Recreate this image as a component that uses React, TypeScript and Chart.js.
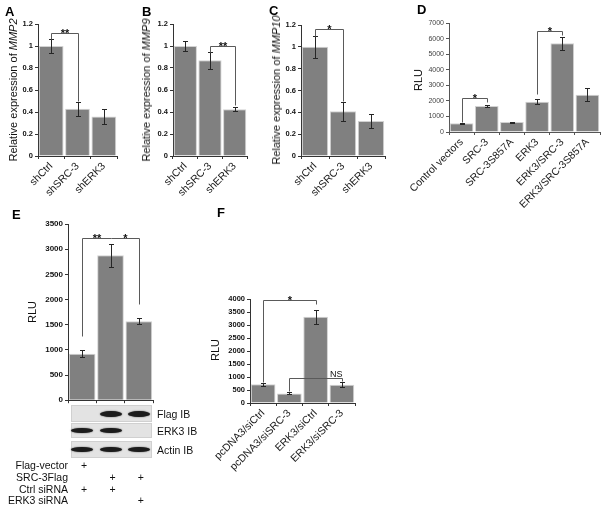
import React, { useEffect, useRef } from 'react';
import { Chart, registerables } from 'chart.js';
Chart.register(...registerables);

const FONT = '"Liberation Sans", Arial, Helvetica, sans-serif';

// ---------- data ----------
const catsA = ['shCtrl', 'shSRC-3', 'shERK3'];
const valsA = [1.0, 0.43, 0.36];
const errA = [0.06, 0.064, 0.07];
const ticksRel = [0, 0.2, 0.4, 0.6, 0.8, 1, 1.2];

const catsB = ['shCtrl', 'shSRC-3', 'shERK3'];
const valsB = [1.0, 0.87, 0.425];
const errB = [0.045, 0.08, 0.02];

const catsC = ['shCtrl', 'shSRC-3', 'shERK3'];
const valsC = [1.0, 0.41, 0.32];
const errC = [0.1, 0.085, 0.065];

const catsD = ['Control vectors', 'SRC-3', 'SRC-3S857A', 'ERK3', 'ERK3/SRC-3', 'ERK3/SRC-3S857A'];
const valsD = [560, 1670, 640, 1950, 5700, 2400];
const errD = [50, 90, 30, 180, 420, 400];
const ticksD = [0, 1000, 2000, 3000, 4000, 5000, 6000, 7000];

const catsE = ['Flag-vector/Ctrl siRNA', 'SRC-3Flag/Ctrl siRNA', 'SRC-3Flag/ERK3 siRNA'];
const valsE = [925, 2880, 1570];
const errE = [75, 230, 65];
const ticksE = [0, 500, 1000, 1500, 2000, 2500, 3000, 3500];

const catsF = ['pcDNA3/siCtrl', 'pcDNA3/siSRC-3', 'ERK3/siCtrl', 'ERK3/siSRC-3'];
const valsF = [720, 370, 3320, 700];
const errF = [65, 40, 270, 100];
const ticksF = [0, 500, 1000, 1500, 2000, 2500, 3000, 3500, 4000];

// significance brackets (values in data units)
const sigA = [{ from: 0, to: 1, y: 1.12, fromEnd: 1.06, toEnd: 0.5, label: '**', at: 0.5 }];
const sigB = [{ from: 1, to: 2, y: 1.0, fromEnd: 0.95, toEnd: 0.46, label: '**', at: 0.5 }];
const sigC = [{ from: 0, to: 1, y: 1.16, fromEnd: 1.1, toEnd: 0.5, label: '*', at: 0.5 }];
const sigD = [
  { from: 0, to: 1, y: 2200, fromEnd: 650, toEnd: 1900, label: '*', at: 0.5 },
  { from: 3, to: 4, y: 6500, fromEnd: 2450, toEnd: 6250, label: '*', at: 0.5 },
];
const sigE = [
  { from: 0, to: 1, y: 3230, fromEnd: 1270, toEnd: 3230, label: '**', at: 0.5 },
  { from: 1, to: 2, y: 3230, fromEnd: 3230, toEnd: 1920, label: '*', at: 0.5 },
];
const sigF = [
  { from: 0, to: 2, y: 3960, fromEnd: 800, toEnd: 3800, label: '*', at: 0.5 },
  { from: 1, to: 3, y: 970, fromEnd: 480, toEnd: 850, label: 'NS', at: 0.88 },
];

// western blot lanes (1 = band present)
const blotNames = ['Flag IB', 'ERK3 IB', 'Actin IB'];
const blotFlag = [0, 1, 1];
const blotErk3 = [1, 1, 0];
const blotActin = [1, 1, 1];

// condition table
const condNames = ['Flag-vector', 'SRC-3Flag', 'Ctrl siRNA', 'ERK3 siRNA'];
const condFlagVector = [1, 0, 0];
const condSrc3Flag = [0, 1, 1];
const condCtrlSi = [1, 1, 0];
const condErk3Si = [0, 0, 1];

// ---------- layout ----------
type Geo = { axisX: number; axisRight: number; yTop: number; yBottom: number };
const geoA: Geo = { axisX: 38, axisRight: 117, yTop: 24, yBottom: 156 };
const geoB: Geo = { axisX: 173, axisRight: 247, yTop: 24, yBottom: 156 };
const geoC: Geo = { axisX: 301, axisRight: 385, yTop: 25, yBottom: 156 };
const geoD: Geo = { axisX: 449, axisRight: 600, yTop: 23, yBottom: 132 };
const geoE: Geo = { axisX: 68, axisRight: 153, yTop: 224, yBottom: 403 };
const geoF: Geo = { axisX: 250, axisRight: 355, yTop: 299, yBottom: 403 };

type Sig = { from: number; to: number; y: number; fromEnd: number; toEnd: number; label: string; at: number };

function annotPlugin(errs: number[], sig: Sig[]) {
  return {
    id: 'annot',
    afterDatasetsDraw(chart: any) {
      const { ctx } = chart;
      const x = chart.scales.x;
      const y = chart.scales.y;
      const data = chart.data.datasets[0].data as number[];
      ctx.save();
      ctx.strokeStyle = '#262626';
      ctx.lineWidth = 1;
      errs.forEach((e, i) => {
        const cx = Math.round(x.getPixelForValue(i)) + 0.5;
        const v = data[i];
        const t = Math.round(y.getPixelForValue(v + e)) + 0.5;
        const b = Math.round(y.getPixelForValue(v - e)) + 0.5;
        ctx.beginPath();
        ctx.moveTo(cx, t); ctx.lineTo(cx, b);
        ctx.moveTo(cx - 2.5, t); ctx.lineTo(cx + 2.5, t);
        ctx.moveTo(cx - 2.5, b); ctx.lineTo(cx + 2.5, b);
        ctx.stroke();
      });
      sig.forEach((s) => {
        const x1 = Math.round(x.getPixelForValue(s.from)) + 0.5;
        const x2 = Math.round(x.getPixelForValue(s.to)) + 0.5;
        const yy = Math.round(y.getPixelForValue(s.y)) + 0.5;
        ctx.strokeStyle = '#5a5a5a';
        ctx.beginPath();
        ctx.moveTo(x1, Math.round(y.getPixelForValue(s.fromEnd)) + 0.5);
        ctx.lineTo(x1, yy);
        ctx.lineTo(x2, yy);
        ctx.lineTo(x2, Math.round(y.getPixelForValue(s.toEnd)) + 0.5);
        ctx.stroke();
        ctx.fillStyle = '#111';
        ctx.textAlign = 'center';
        ctx.textBaseline = 'alphabetic';
        const lx = x1 + (x2 - x1) * s.at;
        if (/^\*+$/.test(s.label)) {
          ctx.font = `bold 11px ${FONT}`;
          ctx.fillText(s.label, lx, yy + 3.5);
        } else {
          ctx.font = `9px ${FONT}`;
          ctx.fillText(s.label, lx, yy - 1.5);
        }
      });
      ctx.restore();
    },
  };
}

type PanelProps = {
  g: Geo; cats: string[]; vals: number[]; errs: number[]; ticks: number[]; sig: Sig[];
  tickFont: any; tickColor: string; showX?: boolean; yW?: number; xH?: number; axisColor?: string;
};

function BarPanel({ g, cats, vals, errs, ticks, sig, tickFont, tickColor, showX = true, yW = 60, xH = 90, axisColor = '#333' }: PanelProps) {
  const ref = useRef<HTMLCanvasElement>(null);
  const padTop = 20;
  const padRight = 14;
  const w = yW + (g.axisRight - g.axisX) + padRight;
  const h = padTop + (g.yBottom - g.yTop) + xH;
  useEffect(() => {
    if (!ref.current) return;
    const chart = new Chart(ref.current, {
      type: 'bar',
      data: {
        labels: cats,
        datasets: [{
          data: vals,
          backgroundColor: '#808080',
          borderColor: '#d2d2d2',
          borderWidth: 1,
          barPercentage: 0.94,
          categoryPercentage: 1,
        }],
      },
      options: {
        animation: false,
        responsive: false,
        maintainAspectRatio: false,
        devicePixelRatio: 1,
        layout: { padding: { top: padTop, right: padRight, left: 0, bottom: 0 } },
        plugins: { legend: { display: false }, tooltip: { enabled: false } },
        scales: {
          x: {
            grid: { display: true, drawOnChartArea: false, drawTicks: true, tickLength: 3, color: axisColor, offset: true },
            border: { display: true, color: axisColor, width: 1 },
            ticks: {
              display: showX, minRotation: 45, maxRotation: 45, autoSkip: false, padding: 1,
              font: { family: FONT, size: 10.5 }, color: '#1a1a1a',
            },
            afterFit: (s: any) => { s.height = xH; },
          },
          y: {
            min: ticks[0],
            max: ticks[ticks.length - 1],
            afterBuildTicks: (s: any) => { s.ticks = ticks.map((v) => ({ value: v })); },
            grid: { display: true, drawOnChartArea: false, drawTicks: true, tickLength: 3, color: axisColor },
            border: { display: true, color: axisColor, width: 1 },
            ticks: { padding: 2, font: tickFont, color: tickColor, callback: (v: any) => String(v) },
            afterFit: (s: any) => { s.width = yW; },
          },
        },
      },
      plugins: [annotPlugin(errs, sig)],
    } as any);
    return () => chart.destroy();
  }, []);
  return (
    <canvas
      ref={ref}
      width={w}
      height={h}
      style={{ position: 'absolute', left: g.axisX - yW, top: g.yTop - padTop, width: w, height: h }}
    />
  );
}

function Letter({ ch, x, y }: { ch: string; x: number; y: number }) {
  return (
    <div style={{ position: 'absolute', left: x, top: y - 2, font: `bold 13px ${FONT}`, lineHeight: '13px', color: '#000' }}>{ch}</div>
  );
}

function YTitle({ cx, cy, children }: { cx: number; cy: number; children: any }) {
  return (
    <div style={{
      position: 'absolute', left: cx, top: cy, transform: 'translate(-50%, -50%) rotate(-90deg)',
      whiteSpace: 'nowrap', font: `11px ${FONT}`, lineHeight: '12px', color: '#111',
    }}>{children}</div>
  );
}

const laneX = (i: number) => geoE.axisX + ((i + 0.5) * (geoE.axisRight - geoE.axisX)) / 3;

function Blot({ top, height, lanes, bandH, label }: { top: number; height: number; lanes: number[]; bandH: number; label: string }) {
  return (
    <>
      <div style={{
        position: 'absolute', left: 71, top, width: 81, height, background: '#e3e3e3',
        boxSizing: 'border-box', border: '1px solid #d0d0d0',
      }} />
      {lanes.map((p, i) => p ? (
        <div key={i} style={{
          position: 'absolute', left: laneX(i) - 11, top: top + height / 2 - bandH / 2, width: 22, height: bandH,
          borderRadius: '50%', background: '#1c1c1c', boxShadow: '0 0 1.5px #333',
        }} />
      ) : null)}
      <div style={{ position: 'absolute', left: 157, top: top + height / 2 - 7, font: `10.5px ${FONT}`, lineHeight: '14px', color: '#111', whiteSpace: 'nowrap' }}>{label}</div>
    </>
  );
}

function CondRow({ name, flags, cy }: { name: string; flags: number[]; cy: number }) {
  return (
    <>
      <div style={{ position: 'absolute', right: 610 - 68, top: cy - 7, font: `10.5px ${FONT}`, lineHeight: '14px', color: '#111', whiteSpace: 'nowrap', textAlign: 'right' }}>{name}</div>
      {flags.map((f, i) => f ? (
        <div key={i} style={{ position: 'absolute', left: laneX(i) + 2, top: cy - 7, transform: 'translateX(-50%)', font: `10.5px ${FONT}`, lineHeight: '14px', color: '#111' }}>+</div>
      ) : null)}
    </>
  );
}

export default function App() {
  const boldTick = { family: FONT, size: 7.5, weight: 'bold' };
  return (
    <div style={{ position: 'absolute', left: 0, top: 0, width: 610, height: 506, background: '#fff', overflow: 'hidden' }}>
      <BarPanel g={geoA} cats={catsA} vals={valsA} errs={errA} ticks={ticksRel} sig={sigA} tickFont={boldTick} tickColor="#111" yW={34} />
      <BarPanel g={geoB} cats={catsB} vals={valsB} errs={errB} ticks={ticksRel} sig={sigB} tickFont={boldTick} tickColor="#111" yW={34} />
      <BarPanel g={geoC} cats={catsC} vals={valsC} errs={errC} ticks={ticksRel} sig={sigC} tickFont={boldTick} tickColor="#111" yW={34} />
      <BarPanel g={geoD} cats={catsD} vals={valsD} errs={errD} ticks={ticksD} sig={sigD} tickFont={{ family: FONT, size: 7 }} tickColor="#444" yW={70} xH={100} axisColor="#555" />
      <BarPanel g={geoE} cats={catsE} vals={valsE} errs={errE} ticks={ticksE} sig={sigE} tickFont={{ family: FONT, size: 8, weight: 'bold' }} tickColor="#111" showX={false} yW={34} xH={4} />
      <BarPanel g={geoF} cats={catsF} vals={valsF} errs={errF} ticks={ticksF} sig={sigF} tickFont={boldTick} tickColor="#111" yW={70} xH={103} />

      <Letter ch="A" x={5} y={7} />
      <Letter ch="B" x={142} y={7} />
      <Letter ch="C" x={269} y={6} />
      <Letter ch="D" x={417} y={5} />
      <Letter ch="E" x={12} y={210} />
      <Letter ch="F" x={217} y={208} />

      <YTitle cx={13} cy={90}>Relative expression of <i>MMP2</i></YTitle>
      <YTitle cx={146} cy={90}>Relative expression of <i>MMP9</i></YTitle>
      <YTitle cx={276} cy={90}>Relative expression of <i>MMP10</i></YTitle>
      <YTitle cx={418} cy={80}>RLU</YTitle>
      <YTitle cx={32} cy={312}>RLU</YTitle>
      <YTitle cx={215} cy={350}>RLU</YTitle>

      <Blot top={405} height={17} lanes={blotFlag} bandH={6} label={blotNames[0]} />
      <Blot top={423} height={15} lanes={blotErk3} bandH={5} label={blotNames[1]} />
      <Blot top={441} height={17} lanes={blotActin} bandH={5} label={blotNames[2]} />

      <CondRow name={condNames[0]} flags={condFlagVector} cy={465} />
      <CondRow name={condNames[1]} flags={condSrc3Flag} cy={477} />
      <CondRow name={condNames[2]} flags={condCtrlSi} cy={489} />
      <CondRow name={condNames[3]} flags={condErk3Si} cy={500} />
    </div>
  );
}
